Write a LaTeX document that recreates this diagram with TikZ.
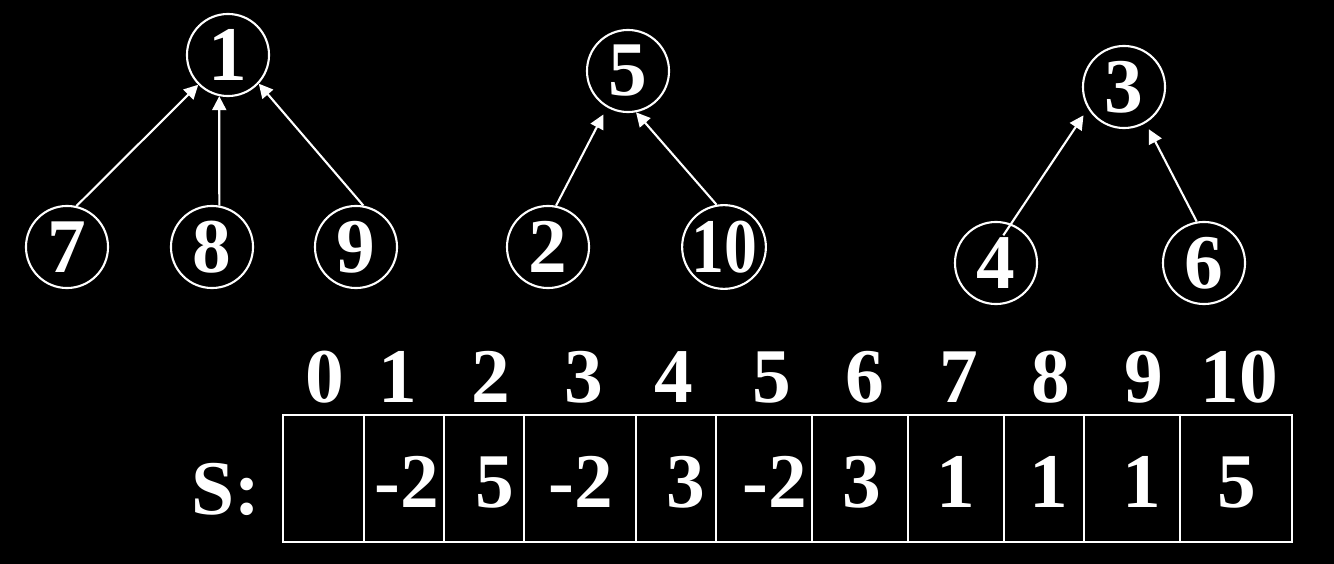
\documentclass[tikz,border=0pt]{standalone}
\usepackage{fontspec}
\setmainfont{Liberation Serif}
\usetikzlibrary{arrows.meta}

\begin{document}
\begin{tikzpicture}[x=.01cm,y=-.01cm,line width=.6pt,white,
    every node/.style={font=\fontsize{22}{26}\selectfont\bfseries},
    vtx/.style={draw,circle,minimum size=.82cm,inner sep=0pt},
    arr/.style={-{Triangle[length=.14cm,width=.14cm]}}]
  \fill[black] (0,0) rectangle (1334,564);
  \useasboundingbox (0,0) rectangle (1334,564);
  % the three trees
  \node[vtx] (n1) at (228,55) {1};
  \node[vtx] (n7) at (67,247) {7};
  \node[vtx] (n8) at (212,247) {8};
  \node[vtx] (n9) at (356,247) {9};
  \node[vtx] (n5) at (628,71) {5};
  \node[vtx] (n2) at (548,247) {2};
  \node[vtx] (n10) at (724,247) {\scalebox{.85}[1]{10}};
  \node[vtx] (n3) at (1124,87) {3};
  \node[vtx] (n4) at (996,263) {4};
  \node[vtx] (n6) at (1204,263) {6};
  \draw[arr] (n7.77) -- (n1.225);
  \draw[arr] (n8.80) -- (n1.258);
  \draw[arr] (n9.80) -- (n1.317);
  \draw[arr,shorten >=.08cm] (n2.79) -- (n5.240);
  \draw[arr] (n10.100) -- (n5.281);
  \draw[arr,shorten <=-.14cm,shorten >=.08cm] (n4.69) -- (n3.211);
  \draw[arr,shorten >=.07cm] (n6.100) -- (n3.301);
  % the array S
  \node[anchor=base,inner sep=0pt] (s) at (226,514) {S:};
  \foreach \i/\l/\r/\lx/\vx/\val in {0/283/364/325/323/{},1/364/444/398/407/-2,
      2/444/524/491/495/5,3/524/636/584/581/-2,4/636/716/674/686/3,
      5/716/812/772/775/-2,6/812/908/865/862/3,7/908/1004/959/956/1,
      8/1004/1084/1051/1049/1,9/1084/1180/1144/1142/1,10/1180/1292/1239/1237/5}
  {
    \draw (\l,415) rectangle (\r,542);
    \node[anchor=base,inner sep=0pt] (l\i) at (\lx,402) {\i};
    \node[anchor=base,inner sep=0pt] (v\i) at (\vx,507) {\val};
  }
\end{tikzpicture}
\end{document}
